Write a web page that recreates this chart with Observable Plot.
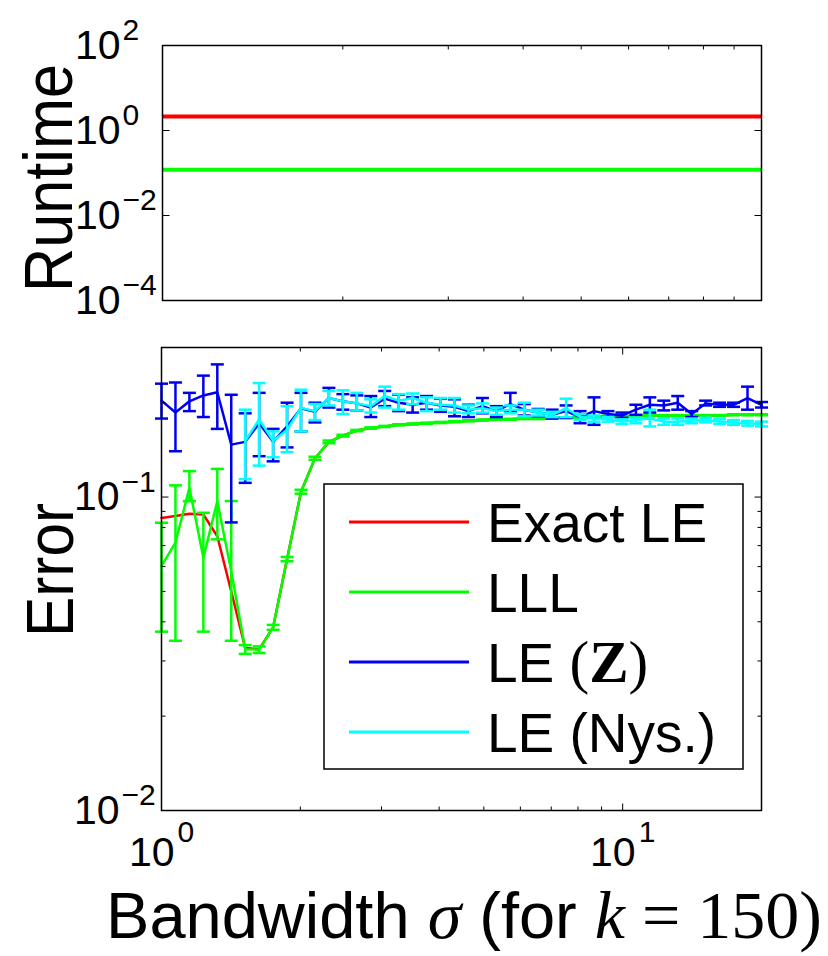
<!DOCTYPE html>
<html><head><meta charset="utf-8">
<script src="https://cdn.jsdelivr.net/npm/d3@7"></script>
<script src="https://cdn.jsdelivr.net/npm/@observablehq/plot@0.6"></script>
<style>
html,body{margin:0;padding:0;background:#fff;}
#wrap{position:relative;width:828px;height:956px;overflow:hidden;font-family:"Liberation Sans",Arial,sans-serif;}
#wrap svg{position:absolute;left:0;}
</style></head><body><div id="wrap"></div>
<script>
// ---------- data ----------
const sigma = [1, 1.0722, 1.1495, 1.2324, 1.3213, 1.4166, 1.5188, 1.6284, 1.7459, 1.8719, 2.0069, 2.1517, 2.3069, 2.4734, 2.6518, 2.8431, 3.0482, 3.2682, 3.5040, 3.7568, 4.0278, 4.3184, 4.6300, 4.9640, 5.3221, 5.7061, 6.1178, 6.5592, 7.0324, 7.5398, 8.0838, 8.6670, 9.2923, 9.9627, 10.682, 11.452, 12.279, 13.164, 14.114, 15.132, 16.224, 17.394, 18.649, 20];

const runtimeExact = [2.13, 2.13, 2.13, 2.13, 2.13, 2.13, 2.13, 2.13, 2.13, 2.13, 2.13, 2.13, 2.13, 2.13, 2.13, 2.13, 2.13, 2.13, 2.13, 2.13, 2.13, 2.13, 2.13, 2.13, 2.13, 2.13, 2.13, 2.13, 2.13, 2.13, 2.13, 2.13, 2.13, 2.13, 2.13, 2.13, 2.13, 2.13, 2.13, 2.13, 2.13, 2.13, 2.13, 2.13];
const runtimeLLL = [0.119, 0.119, 0.119, 0.119, 0.119, 0.119, 0.119, 0.119, 0.119, 0.119, 0.119, 0.119, 0.119, 0.119, 0.119, 0.119, 0.119, 0.119, 0.119, 0.119, 0.119, 0.119, 0.119, 0.119, 0.119, 0.119, 0.119, 0.119, 0.119, 0.119, 0.119, 0.119, 0.119, 0.119, 0.119, 0.119, 0.119, 0.119, 0.119, 0.119, 0.119, 0.119, 0.119, 0.119];

const errExact = [0.0857, 0.0870, 0.0885, 0.0880, 0.0750, 0.0500, 0.0330, 0.0327, 0.0384, 0.0634, 0.104, 0.133, 0.150, 0.157, 0.163, 0.166, 0.168, 0.170, 0.171, 0.172, 0.173, 0.174, 0.175, 0.176, 0.177, 0.177, 0.178, 0.178, 0.179, 0.179, 0.180, 0.180, 0.181, 0.181, 0.181, 0.182, 0.182, 0.182, 0.182, 0.182, 0.182, 0.183, 0.183, 0.183];

const errLLL = [0.0603, 0.0715, 0.107, 0.0641, 0.097, 0.058, 0.0327, 0.0326, 0.0384, 0.0634, 0.104, 0.133, 0.150, 0.157, 0.163, 0.166, 0.168, 0.170, 0.171, 0.172, 0.173, 0.174, 0.175, 0.176, 0.177, 0.177, 0.178, 0.178, 0.179, 0.179, 0.180, 0.180, 0.181, 0.181, 0.181, 0.182, 0.182, 0.182, 0.182, 0.182, 0.182, 0.183, 0.183, 0.183];
const errLLLlo = [0.0372, 0.0348, 0.097, 0.0372, 0.0733, 0.0348, 0.0316, 0.0318, 0.0377, 0.0624, 0.1025, 0.1315, 0.1485, 0.1560, 0.1622, 0.1652, 0.1673, 0.1693, 0.1703, 0.1713, 0.1723, 0.1733, 0.1743, 0.1753, 0.1763, 0.1763, 0.1773, 0.1773, 0.1783, 0.1783, 0.1793, 0.1793, 0.1803, 0.1803, 0.1803, 0.1813, 0.1813, 0.1813, 0.1813, 0.1813, 0.1813, 0.1823, 0.1823, 0.1823];
const errLLLhi = [0.0828, 0.109, 0.121, 0.0891, 0.123, 0.0971, 0.0337, 0.0334, 0.0391, 0.0644, 0.1055, 0.1345, 0.1515, 0.1580, 0.1638, 0.1668, 0.1687, 0.1707, 0.1717, 0.1727, 0.1737, 0.1747, 0.1757, 0.1767, 0.1777, 0.1777, 0.1787, 0.1787, 0.1797, 0.1797, 0.1807, 0.1807, 0.1817, 0.1817, 0.1817, 0.1827, 0.1827, 0.1827, 0.1827, 0.1827, 0.1827, 0.1837, 0.1837, 0.1837];

const errZ = [0.203, 0.186, 0.202, 0.211, 0.216, 0.147, 0.150, 0.172, 0.150, 0.168, 0.192, 0.187, 0.207, 0.202, 0.199, 0.193, 0.206, 0.200, 0.197, 0.200, 0.196, 0.194, 0.188, 0.195, 0.188, 0.198, 0.190, 0.186, 0.183, 0.188, 0.180, 0.188, 0.184, 0.182, 0.190, 0.197, 0.196, 0.200, 0.184, 0.199, 0.197, 0.197, 0.207, 0.197];
const errZlo = [0.178, 0.140, 0.188, 0.180, 0.165, 0.083, 0.111, 0.135, 0.130, 0.144, 0.162, 0.173, 0.193, 0.190, 0.189, 0.180, 0.195, 0.188, 0.186, 0.190, 0.187, 0.181, 0.180, 0.185, 0.180, 0.188, 0.182, 0.181, 0.178, 0.179, 0.172, 0.170, 0.180, 0.179, 0.183, 0.186, 0.189, 0.190, 0.180, 0.196, 0.194, 0.194, 0.190, 0.193];
const errZhi = [0.230, 0.232, 0.215, 0.244, 0.265, 0.212, 0.185, 0.215, 0.165, 0.200, 0.215, 0.200, 0.223, 0.213, 0.211, 0.210, 0.218, 0.212, 0.208, 0.210, 0.206, 0.205, 0.197, 0.207, 0.195, 0.215, 0.198, 0.191, 0.190, 0.196, 0.188, 0.208, 0.188, 0.186, 0.197, 0.208, 0.203, 0.210, 0.188, 0.203, 0.200, 0.200, 0.225, 0.201];

const errNys = [null, null, null, null, null, null, 0.151, 0.177, 0.151, 0.164, 0.1925, 0.188, 0.207, 0.202, 0.199, 0.195, 0.210, 0.203, 0.207, 0.200, 0.197, 0.196, 0.190, 0.192, 0.188, 0.190, 0.190, 0.186, 0.183, 0.192, 0.180, 0.178, 0.177, 0.174, 0.176, 0.178, 0.174, 0.174, 0.175, 0.176, 0.174, 0.173, 0.172, 0.171];
const errNyslo = [null, null, null, null, null, null, 0.114, 0.126, 0.134, 0.139, 0.162, 0.176, 0.196, 0.184, 0.189, 0.186, 0.193, 0.190, 0.198, 0.188, 0.190, 0.186, 0.185, 0.186, 0.183, 0.185, 0.181, 0.182, 0.180, 0.180, 0.176, 0.174, 0.174, 0.171, 0.172, 0.168, 0.170, 0.170, 0.172, 0.173, 0.171, 0.170, 0.169, 0.168];
const errNyshi = [null, null, null, null, null, null, 0.190, 0.231, 0.162, 0.195, 0.220, 0.198, 0.218, 0.219, 0.215, 0.205, 0.225, 0.213, 0.214, 0.208, 0.207, 0.207, 0.196, 0.199, 0.193, 0.196, 0.200, 0.190, 0.187, 0.206, 0.184, 0.182, 0.180, 0.177, 0.179, 0.190, 0.178, 0.178, 0.178, 0.179, 0.177, 0.176, 0.175, 0.174];

const seriesNames = ["Exact LE", "LLL", "LE (Z)", "LE (Nys.)"];
const seriesColors = ["#ff0000", "#00ff00", "#0000f0", "#00ffff"];

const xMajorTicks = [1, 10];
const xMajorExp = ["0", "1"];
const xMinorTicks = [2, 3, 4, 5, 6, 7, 8, 9];
const yTopTicks = [100, 1, 0.01, 0.0001];
const yTopExp = ["2", "0", "\u22122", "\u22124"];
const yBotTicks = [0.1, 0.01];
const yBotExp = ["\u22121", "\u22122"];
const yBotMinor = [0.02, 0.03, 0.04, 0.05, 0.06, 0.07, 0.08, 0.09, 0.2];

(function () {
// ---------- helpers ----------
const table = (ys, lo, hi) => sigma.map((x, i) => ({x, y: ys[i], lo: lo ? lo[i] : null, hi: hi ? hi[i] : null})).filter(d => d.y != null);
const seg = (dx, dy) => ({draw(ctx, size) { const r = Math.sqrt(size / Math.PI); ctx.moveTo(0, 0); ctx.lineTo(dx * r, dy * r); }});
const capSym = {draw(ctx, size) { const r = Math.sqrt(size / Math.PI); ctx.moveTo(-r, 0); ctx.lineTo(r, 0); }};
const FONT = "'Liberation Sans', Arial, Helvetica, sans-serif";

function ticksX(vals, len) {
  return [
    Plot.dot(vals, {x: d => d, frameAnchor: "bottom", symbol: seg(0, -1), r: len, stroke: "black", strokeWidth: 1, fill: "none"}),
    Plot.dot(vals, {x: d => d, frameAnchor: "top", symbol: seg(0, 1), r: len, stroke: "black", strokeWidth: 1, fill: "none"})
  ];
}
function ticksY(vals, len) {
  return [
    Plot.dot(vals, {y: d => d, frameAnchor: "left", symbol: seg(1, 0), r: len, stroke: "black", strokeWidth: 1, fill: "none"}),
    Plot.dot(vals, {y: d => d, frameAnchor: "right", symbol: seg(-1, 0), r: len, stroke: "black", strokeWidth: 1, fill: "none"})
  ];
}
function yLabels(vals, exps) {
  return [
    Plot.text(vals, {y: d => d, text: () => "10", frameAnchor: "left", dx: -42, textAnchor: "end", lineAnchor: "middle", fontSize: 41, fill: "black"}),
    Plot.text(vals, {y: d => d, text: (d, i) => exps[i], frameAnchor: "left", dx: -40, dy: -15, textAnchor: "start", lineAnchor: "middle", fontSize: 30, fill: "black"})
  ];
}
function errSeries(data, color) {
  return [
    Plot.ruleX(data, {x: "x", y1: "lo", y2: "hi", stroke: color, strokeWidth: 2.5}),
    Plot.dot(data, {x: "x", y: "lo", symbol: capSym, r: 6.5, stroke: color, strokeWidth: 2.5, fill: "none"}),
    Plot.dot(data, {x: "x", y: "hi", symbol: capSym, r: 6.5, stroke: color, strokeWidth: 2.5, fill: "none"}),
    Plot.line(data, {x: "x", y: "y", stroke: color, strokeWidth: 2.5})
  ];
}

const wrap = document.getElementById("wrap");

// ---------- top panel: runtime (its x axis spans one decade) ----------
const topPlot = Plot.plot({
  width: 828, height: 320,
  marginLeft: 162, marginRight: 67, marginTop: 45, marginBottom: 20,
  x: {type: "log", domain: [1, 10], axis: null},
  y: {type: "log", domain: [1e-4, 1e2], axis: null},
  style: {fontFamily: FONT, background: "transparent", overflow: "visible"},
  marks: [
    Plot.line(table(runtimeExact), {x: "x", y: "y", stroke: seriesColors[0], strokeWidth: 4, clip: true}),
    Plot.line(table(runtimeLLL), {x: "x", y: "y", stroke: seriesColors[1], strokeWidth: 4, clip: true}),
    ...ticksX(xMinorTicks, 4),
    ...ticksY(yTopTicks, 7),
    ...yLabels(yTopTicks, yTopExp),
    Plot.frame({stroke: "black", strokeWidth: 1.5})
  ]
});
topPlot.style.top = "0px";
wrap.appendChild(topPlot);

// ---------- bottom panel: error ----------
const botPlot = Plot.plot({
  width: 828, height: 636,
  marginLeft: 161, marginRight: 67, marginTop: 27, marginBottom: 146,
  x: {type: "log", domain: [1, 20], axis: null},
  y: {type: "log", domain: [0.01, 0.3], axis: null},
  style: {fontFamily: FONT, background: "transparent", overflow: "visible"},
  marks: [
    Plot.line(table(errExact), {x: "x", y: "y", stroke: seriesColors[0], strokeWidth: 2.5}),
    ...errSeries(table(errLLL, errLLLlo, errLLLhi), seriesColors[1]),
    ...errSeries(table(errZ, errZlo, errZhi), seriesColors[2]),
    ...errSeries(table(errNys, errNyslo, errNyshi), seriesColors[3]),
    ...ticksX(xMajorTicks, 7),
    ...ticksX(xMinorTicks, 4),
    ...ticksY(yBotTicks, 7),
    ...ticksY(yBotMinor, 4),
    ...yLabels(yBotTicks, yBotExp),
    Plot.text(xMajorTicks, {x: d => d, text: () => "10", frameAnchor: "bottom", dx: 13, dy: 42, textAnchor: "end", lineAnchor: "middle", fontSize: 41, fill: "black"}),
    Plot.text(xMajorTicks, {x: d => d, text: (d, i) => xMajorExp[i], frameAnchor: "bottom", dx: 16, dy: 22, textAnchor: "start", lineAnchor: "middle", fontSize: 30, fill: "black"}),
    Plot.frame({stroke: "black", strokeWidth: 1.5})
  ]
});
botPlot.style.top = "320px";
wrap.appendChild(botPlot);

// ---------- overlay: axis titles and legend ----------
const NS = "http://www.w3.org/2000/svg";
const ov = document.createElementNS(NS, "svg");
ov.setAttribute("width", 828); ov.setAttribute("height", 956);
ov.style.top = "0px"; ov.style.pointerEvents = "none";
ov.setAttribute("font-family", "'Liberation Sans', Arial, sans-serif");
wrap.appendChild(ov);
function el(tag, attrs, parent = ov) { const e = document.createElementNS(NS, tag); for (const k in attrs) e.setAttribute(k, attrs[k]); parent.appendChild(e); return e; }
function tspan(parent, txt, attrs) { const t = el("tspan", attrs, parent); t.textContent = txt; return t; }

el("text", {transform: "translate(72,178) rotate(-90) scale(0.9,1)", "text-anchor": "middle", "font-size": 68}).textContent = "Runtime";
el("text", {transform: "translate(73,570) rotate(-90) scale(0.9,1)", "text-anchor": "middle", "font-size": 67}).textContent = "Error";

const SERIF = "'Liberation Serif', 'Times New Roman', serif";
const ttl = el("text", {x: 822, y: 938, "text-anchor": "end", "font-size": 65});
tspan(ttl, "Bandwidth ", {});
tspan(ttl, "\u03c3", {"font-family": SERIF, "font-style": "italic", "font-size": 68});
tspan(ttl, " (for ", {});
tspan(ttl, "k", {"font-family": SERIF, "font-style": "italic", "font-size": 68});
tspan(ttl, " = 150)", {"font-family": SERIF, "font-size": 68});

// legend
el("rect", {x: 324, y: 484, width: 419, height: 285, fill: "white", stroke: "black", "stroke-width": 1.5});
const legY = [522, 592, 662, 732];
seriesNames.forEach((name, i) => {
  el("line", {x1: 349, x2: 469, y1: legY[i], y2: legY[i], stroke: seriesColors[i], "stroke-width": 3});
  const t = el("text", {x: 487, y: legY[i] + 20, "font-size": 55});
  if (name === "LE (Z)") {
    tspan(t, "LE ", {});
    tspan(t, "(", {"font-family": SERIF, "font-size": 59});
    tspan(t, "Z", {"font-family": SERIF, "font-weight": "bold", "font-size": 59});
    tspan(t, ")", {"font-family": SERIF, "font-size": 59});
  } else {
    t.textContent = name;
  }
});
})();
</script></body></html>
